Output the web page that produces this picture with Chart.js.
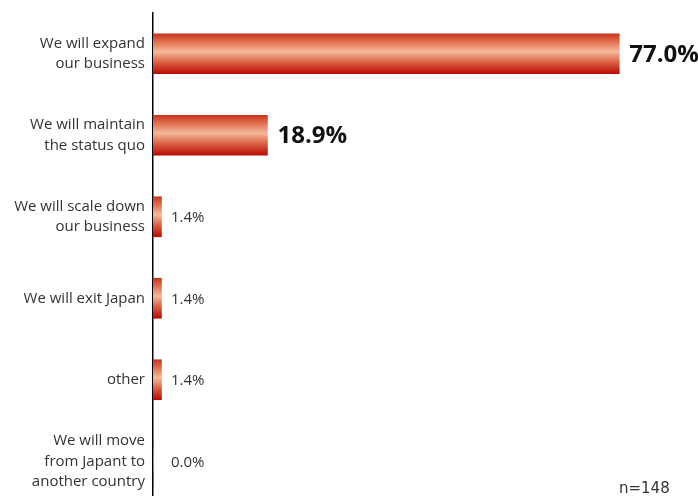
<!DOCTYPE html>
<html>
<head>
<meta charset="utf-8">
<script src="https://cdn.jsdelivr.net/npm/chart.js@4"></script>
<style>
  html, body { margin: 0; padding: 0; background: #fff; overflow: hidden; }
  #wrap { position: relative; width: 698px; height: 510px; }
</style>
</head>
<body>
<div id="wrap"><canvas id="chart"></canvas></div>
<script>
// categories and answers share (%)
const categories = [
    ["We will expand", "our business"],
    ["We will maintain", "the status quo"],
    ["We will scale down", "our business"],
    ["We will exit Japan"],
    ["other"],
    ["We will move", "from Japant to", "another country"]
];
const shares = [77.0, 18.9, 1.4, 1.4, 1.4, 0.0];
const sampleNote = "n=148";

// vertical gradient per bar (dark red edges, light peach center)
function barFill(context) {
    const chart = context.chart;
    const yScale = chart.scales.y;
    if (!yScale) return "#d9573a";
    const yc = yScale.getPixelForValue(context.dataIndex);
    if (!isFinite(yc)) return "#d9573a";
    const g = chart.ctx.createLinearGradient(0, yc - 20, 0, yc + 20);
    g.addColorStop(0, "#c8341c");
    g.addColorStop(0.2, "#e0704f");
    g.addColorStop(0.45, "#f6b89a");
    g.addColorStop(0.7, "#dc6446");
    g.addColorStop(1, "#b80a04");
    return g;
}

// value labels next to the bars + sample size note
const valueLabels = {
    id: "valueLabels",
    afterDatasetsDraw(chart) {
        const ctx = chart.ctx;
        const x0 = chart.scales.x.getPixelForValue(0);
        ctx.save();
        ctx.textBaseline = "middle";
        ctx.textAlign = "left";
        chart.getDatasetMeta(0).data.forEach((bar, i) => {
            const v = shares[i];
            const txt = v.toFixed(1) + "%";
            if (v > 10) {
                ctx.font = "bold 24px 'Open Sans', sans-serif";
                ctx.fillStyle = "#111";
                ctx.fillText(txt, bar.x + 10, bar.y + 1);
            } else {
                ctx.font = "15px 'Open Sans', sans-serif";
                ctx.fillStyle = "#333";
                ctx.fillText(txt, Math.max(bar.x + 9, x0 + 18), bar.y + 1);
            }
        });
        ctx.font = "15px 'DejaVu Sans', sans-serif";
        ctx.fillStyle = "#333";
        ctx.textBaseline = "alphabetic";
        ctx.fillText(sampleNote, 619, 493);
        ctx.restore();
    }
};

new Chart(document.getElementById("chart").getContext("2d"), {
    type: "bar",
    data: {
        labels: categories,
        datasets: [{
            data: shares,
            backgroundColor: barFill,
            borderWidth: 0,
            barThickness: 40
        }]
    },
    options: {
        indexAxis: "y",
        responsive: true,
        maintainAspectRatio: false,
        animation: false,
        layout: { padding: { top: 13, bottom: 8, left: 0, right: 0 } },
        plugins: {
            legend: { display: false },
            tooltip: { enabled: false }
        },
        scales: {
            x: {
                display: false,
                min: 0,
                max: 90
            },
            y: {
                afterFit(scale) {
                    scale.width = 153;
                    scale.paddingTop = 0;
                    scale.paddingBottom = 0;
                },
                grid: { display: false, drawTicks: false },
                border: { display: true, color: "#000", width: 1.5 },
                ticks: {
                    color: "#333",
                    padding: 8,
                    font: { family: "'Open Sans', sans-serif", size: 15, lineHeight: 1.35 }
                }
            }
        }
    },
    plugins: [valueLabels]
});
</script>
</body>
</html>
